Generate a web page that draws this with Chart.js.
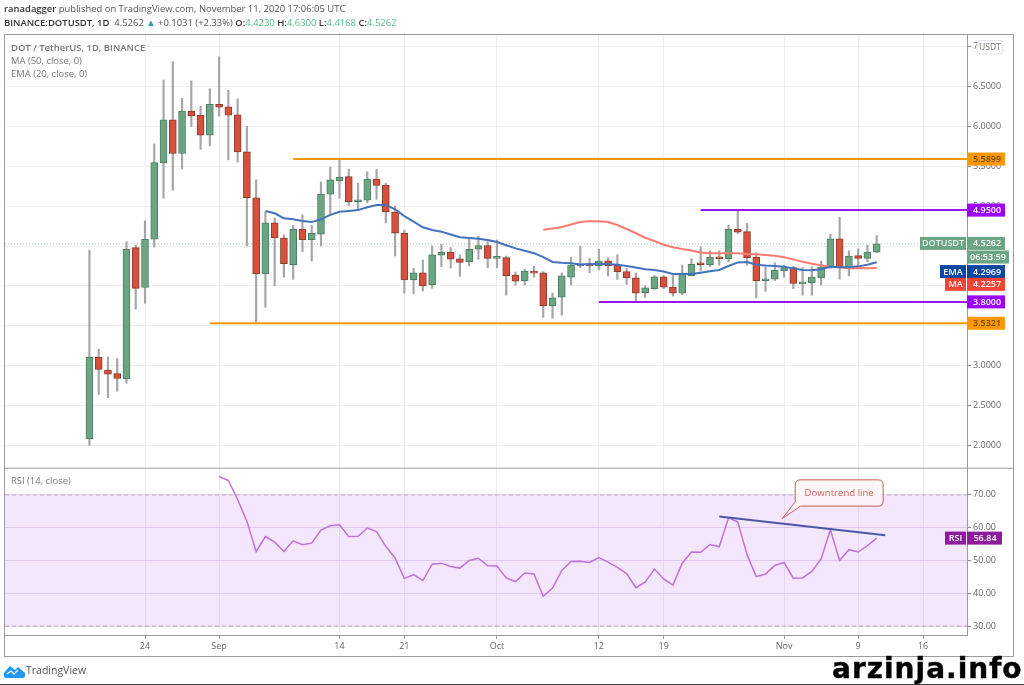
<!DOCTYPE html>
<html><head><meta charset="utf-8">
<script src="https://cdn.jsdelivr.net/npm/chart.js@4/dist/chart.umd.min.js"></script>
<style>
html,body{margin:0;padding:0;background:#fff;overflow:hidden}
#wrap{position:absolute;left:0;top:0;width:1024px;height:685px;filter:blur(0.45px)}
canvas{position:absolute;left:0;top:0}
.t{position:absolute;white-space:nowrap;font-family:"Open Sans",sans-serif;font-size:9.45px;line-height:12px;color:#555}
.b{font-weight:600;color:#333}
.g{color:#53b987}
.l{color:#777}
#mark{position:absolute;left:832px;top:652px;font:bold 28px "DejaVu Sans",sans-serif;letter-spacing:1px;-webkit-text-stroke:0.4px #000;color:#000;line-height:34px;white-space:nowrap}
#foot{position:absolute;left:0;top:684px;width:1024px;height:1px;background:#444}
</style></head><body>
<div id="wrap">
<canvas id="c" width="1024" height="685"></canvas>
<div class="t" style="left:4px;top:3px"><span class="b">ranadagger</span> published on TradingView.com, November 11, 2020 17:06:05 UTC</div>
<div class="t" style="left:4px;top:17px"><span class="b">BINANCE:DOTUSDT, 1D</span> &nbsp;4.5262 <span style="color:#26a69a">▲</span> +0.1031 (+2.33%) <span class="b">O:</span><span class="g">4.4230</span> <span class="b">H:</span><span class="g">4.6300</span> <span class="b">L:</span><span class="g">4.4168</span> <span class="b">C:</span><span class="g">4.5262</span></div>
<div class="t l" style="left:11px;top:42px;font-weight:600">DOT / TetherUS, 1D, BINANCE</div>
<div class="t l" style="left:11px;top:55px">MA (50, close, 0)</div>
<div class="t l" style="left:11px;top:68px">EMA (20, close, 0)</div>
<div class="t l" style="left:11px;top:475px">RSI (14, close)</div>
<svg style="position:absolute;left:4px;top:665px" width="21" height="13" viewBox="0 0 21 13"><path d="M0 11 L0 8 L6 1 L11 5 L14 2 L21 8 L21 11 Q21 13 19 13 L2 13 Q0 13 0 11Z" fill="#2196f3"/><path d="M3 9 L7 6 L10 9 L14 5" stroke="#fff" stroke-width="1.3" fill="none"/></svg>
<div class="t" style="left:26px;top:664px;font-size:10.5px;color:#555">TradingView</div>
<div id="foot"></div>
</div>
<div id="mark">arzinja.info</div>
<script>
const opens=[2.085,3.105,2.945,2.90,2.835,4.48,3.98,4.585,5.545,6.08,5.66,6.19,6.14,5.89,6.275,6.245,6.145,5.68,5.105,4.15,4.79,4.60,4.265,4.71,4.58,4.65,5.15,5.32,5.37,5.055,5.075,5.34,5.265,4.925,4.66,4.075,4.165,4.015,4.385,4.42,4.34,4.305,4.46,4.505,4.345,4.355,4.135,4.065,4.18,4.165,3.75,3.86,4.11,4.25,4.27,4.25,4.315,4.26,4.18,4.10,3.915,3.965,4.115,3.985,3.91,4.13,4.275,4.265,4.36,4.34,4.71,4.68,4.36,4.065,4.085,4.19,4.23,4.025,4.04,4.10,4.235,4.59,4.23,4.38,4.345,4.423];
const closes=[3.105,2.955,2.895,2.84,4.46,3.97,4.585,5.545,6.08,5.66,6.19,6.13,5.89,6.275,6.24,6.14,5.68,5.105,4.15,4.79,4.60,4.28,4.71,4.58,4.66,5.15,5.33,5.36,5.055,5.08,5.34,5.26,4.93,4.66,4.075,4.165,4.00,4.39,4.42,4.335,4.295,4.46,4.505,4.345,4.355,4.13,4.06,4.185,4.16,3.75,3.85,4.125,4.26,4.275,4.25,4.31,4.25,4.18,4.10,3.91,3.975,4.115,3.985,3.91,4.145,4.27,4.265,4.36,4.34,4.71,4.675,4.355,4.065,4.09,4.195,4.23,4.03,4.035,4.11,4.235,4.59,4.235,4.375,4.345,4.425,4.5262];
const highs=[4.45,3.205,3.11,3.09,4.555,4.51,4.817,5.78,6.58,6.81,6.35,6.57,6.25,6.47,6.87,6.45,6.345,6.0,5.33,4.93,4.85,4.64,4.76,4.89,4.76,5.30,5.49,5.59,5.465,5.285,5.43,5.46,5.285,5.0,4.70,4.22,4.325,4.50,4.52,4.48,4.385,4.59,4.62,4.555,4.575,4.375,4.175,4.21,4.25,4.18,3.91,4.165,4.36,4.50,4.345,4.46,4.355,4.39,4.22,4.16,4.0,4.13,4.13,4.13,4.26,4.34,4.49,4.44,4.44,4.76,4.94,4.785,4.415,4.235,4.29,4.26,4.25,4.23,4.24,4.31,4.65,4.86,4.44,4.465,4.51,4.63];
const lows=[2.0,2.64,2.60,2.68,2.78,3.71,3.78,4.485,5.10,5.20,5.465,6.0,5.71,5.755,6.13,5.58,5.55,4.50,3.54,3.73,4.0,4.11,4.08,4.43,4.31,4.50,4.89,5.10,5.01,4.96,5.04,5.085,4.79,4.375,3.91,3.90,3.935,3.97,4.24,4.225,4.12,4.25,4.335,4.225,4.225,3.885,4.01,4.01,4.11,3.605,3.595,3.635,4.01,4.23,4.165,4.20,4.125,4.08,4.02,3.815,3.855,3.955,3.965,3.87,3.89,4.125,4.185,4.24,4.26,4.30,4.655,4.26,3.85,3.93,4.065,4.11,3.965,3.885,3.885,4.01,4.22,4.085,4.125,4.26,4.30,4.4168];
const emaValues=[4.94,4.91,4.847,4.835,4.815,4.80,4.835,4.89,4.93,4.94,4.95,4.985,5.015,5.015,4.96,4.875,4.805,4.735,4.70,4.68,4.645,4.61,4.60,4.59,4.575,4.55,4.51,4.47,4.44,4.41,4.36,4.30,4.29,4.285,4.27,4.275,4.275,4.275,4.265,4.25,4.23,4.21,4.20,4.18,4.15,4.15,4.15,4.165,4.185,4.20,4.25,4.295,4.30,4.265,4.255,4.25,4.24,4.22,4.20,4.195,4.21,4.24,4.235,4.235,4.245,4.265,4.2969];
const maValues=[4.704,4.72,4.738,4.77,4.80,4.81,4.81,4.80,4.763,4.713,4.66,4.604,4.563,4.516,4.484,4.462,4.444,4.42,4.41,4.41,4.41,4.41,4.40,4.396,4.387,4.378,4.358,4.333,4.303,4.278,4.258,4.24,4.233,4.22,4.224,4.22,4.2257];
const rsiValues=[75.6,74.4,68.6,62,52.8,57.3,55.6,52.8,56,54.8,55.3,59.3,60.6,60.9,57.3,57.4,59.9,58.8,54.3,50.8,44.5,45.7,43.9,48.9,49.2,48.2,47.7,50,50.7,48.4,48.3,44.7,43.6,46.2,45.9,39.1,41.6,47,49.7,49.8,49.4,50.9,49.5,47.9,46,41.7,43.4,47.4,44.4,42.5,49.2,52.6,52.5,54.9,54.2,63,61.8,51.8,45.1,45.9,48.5,49.4,44.6,44.7,46.7,50.5,59.4,50,53.3,52.6,54.5,56.84];
const firstDay=-6, emaStart=19, maStart=49, rsiStart=14;
const priceTicks=[2,2.5,3,3.5,4,4.5,5,5.5,6,6.5,7];
const rsiTicks=[30,40,50,60,70];
const timeTicks=[0,8,21,28,38,49,56,69,77,84];
const timeLabels=['24','Sep','14','21','Oct','12','19','Nov','9','16'];
const xMin=-15.116, xMax=88.75;
const orangeLevels=[[16,5.5899],[7,3.5321]];
const purpleLevels=[[60,4.95],[49,3.80]];
const lastClose=4.5262;
const trendDays=[62,79.93], trendRsi=[63.4,57.7];
const dayOf=i=>i+firstDay;
const green='#6ba583', red='#d5503d', greenEdge='#4c8065', redEdge='#8f3b2e';
const candleColors=opens.map((o,i)=>closes[i]>=o?green:red);
const edgeColors=opens.map((o,i)=>closes[i]>=o?greenEdge:redEdge);
const seq=(vals,start)=>vals.map((y,i)=>({x:dayOf(start+i),y}));
const level=(l,color)=>({type:'line',data:[{x:l[0],y:l[1]},{x:xMax,y:l[1]}],borderColor:color,borderWidth:2,pointRadius:0,yAxisID:'y',order:1});
const fmt=v=>v.toFixed(4);

const overlay={id:'overlay',afterDraw(chart){
  const c=chart.ctx,a=chart.chartArea,s=chart.scales,py=s.y,ry=s.rsi,xs=s.x;
  const F='"Open Sans",sans-serif';
  c.save();
  c.strokeStyle='#9b9b9b';c.lineWidth=1;
  c.strokeRect(a.left-0.5,a.top+0.5,1014-a.left,a.bottom+21-a.top);
  c.beginPath();c.moveTo(a.left,py.bottom+0.5);c.lineTo(1014,py.bottom+0.5);c.stroke();
  c.fillStyle='#fff';c.strokeStyle='#e0e3eb';
  c.beginPath();c.roundRect(977,40.5,26,13.5,3);c.fill();c.stroke();
  c.fillStyle='#777';c.font='8.6px '+F;c.textAlign='center';c.textBaseline='middle';c.fillText('USDT',990,47.5);
  const R=a.right;
  const badge=(x0,x1,yc,fill,txt,col,txc)=>{c.fillStyle=fill;c.fillRect(x0,yc-6.5,x1-x0,13);
    c.fillStyle=col;c.font='600 9px '+F;c.textAlign='center';c.fillText(txt,txc??(x0+x1)/2,yc+0.5);};
  const y=v=>py.getPixelForValue(v);
  badge(R,1005,y(5.5899),'#ff9800','5.5899','#6d4c00',987);
  badge(R,1005,y(4.95),'#9c00ff','4.9500','#fff',987);
  badge(R,1005,y(3.80),'#9c00ff','3.8000','#fff',987);
  badge(R,1005,y(3.5321),'#ff9800','3.5321','#6d4c00',987);
  badge(920,966,y(lastClose)-0.5,green,'DOTUSDT','#e8f4ec');
  badge(R,1005,y(lastClose)-0.5,green,'4.5262','#fff',987);
  badge(R,1009,y(4.362),green,'06:53:59','#fff',988);
  badge(940,966,y(4.18),'#0d47a1','EMA','#fff');
  badge(R,1005,y(4.18),'#0d47a1','4.2969','#fff',987);
  badge(945,966,y(4.02),'#f44336','MA','#fff');
  badge(R,1005,y(4.02),'#f44336','4.2257','#fff',987);
  const ryc=ry.getPixelForValue(56.84);
  badge(945,966,ryc,'#8e1a9e','RSI','#fff');
  badge(R,1002,ryc,'#8e1a9e','56.84','#fff',985);
  const X=v=>xs.getPixelForValue(v),Y=v=>ry.getPixelForValue(v);
  const x0=X(70.2),x1=X(79.7),y0=Y(74.6),y1=Y(66.6),r=5;
  c.beginPath();c.moveTo(x0+r,y0);c.lineTo(x1-r,y0);c.quadraticCurveTo(x1,y0,x1,y0+r);c.lineTo(x1,y1-r);c.quadraticCurveTo(x1,y1,x1-r,y1);
  c.lineTo(X(70.8),y1);c.lineTo(X(68.8),Y(62.8));c.lineTo(x0,Y(67.9));c.lineTo(x0,y0+r);c.quadraticCurveTo(x0,y0,x0+r,y0);c.closePath();
  c.fillStyle='rgba(255,244,246,0.85)';c.fill();c.strokeStyle='#c0605f';c.lineWidth=1;c.stroke();
  c.fillStyle='#d4635f';c.font='9.6px '+F;c.textAlign='center';c.fillText('Downtrend line',(x0+x1)/2,Y(70.6)+0.5);
  c.restore();
}};

new Chart(document.getElementById('c'),{
  type:'bar',
  plugins:[overlay],
  data:{datasets:[
    {type:'line',data:[{x:xMin,y:70},{x:xMax,y:70}],yAxisID:'rsi',borderColor:'#b9a9c2',borderWidth:1,borderDash:[4,3],pointRadius:0,fill:{value:30},backgroundColor:'rgba(156,39,240,0.115)',order:9},
    {type:'line',data:[{x:xMin,y:30},{x:xMax,y:30}],yAxisID:'rsi',borderColor:'#b9a9c2',borderWidth:1,borderDash:[4,3],pointRadius:0,order:9},
    {type:'line',data:[{x:xMin,y:lastClose},{x:xMax,y:lastClose}],yAxisID:'y',borderColor:'rgba(107,165,131,0.6)',borderWidth:1,borderDash:[1,2],pointRadius:0,order:8},
    {type:'bar',data:opens.map((_,i)=>({x:dayOf(i),y:[lows[i],highs[i]]})),yAxisID:'y',backgroundColor:'#a6a6a6',barThickness:1.5,grouped:false,order:6},
    {type:'bar',data:opens.map((o,i)=>({x:dayOf(i),y:[o,closes[i]]})),yAxisID:'y',backgroundColor:candleColors,borderColor:edgeColors,borderWidth:1,borderSkipped:false,barThickness:7,minBarLength:2,grouped:false,order:5},
    {type:'line',data:seq(maValues,maStart),yAxisID:'y',borderColor:'#fb7a72',borderWidth:2,pointRadius:0,order:3},
    {type:'line',data:seq(emaValues,emaStart),yAxisID:'y',borderColor:'#4472bd',borderWidth:2,pointRadius:0,order:2},
    ...orangeLevels.map(l=>level(l,'#ff9800')),
    ...purpleLevels.map(l=>level(l,'#9c10f5')),
    {type:'line',data:seq(rsiValues,rsiStart),yAxisID:'rsi',borderColor:'#bd73d8',borderWidth:1.5,pointRadius:0,order:2},
    {type:'line',data:trendDays.map((x,i)=>({x,y:trendRsi[i]})),yAxisID:'rsi',borderColor:'#4a58a8',borderWidth:2,pointRadius:0,order:1}
  ]},
  options:{
    responsive:false,devicePixelRatio:1,animation:false,
    layout:{padding:{left:5,right:10,top:34,bottom:29}},
    plugins:{legend:{display:false},tooltip:{enabled:false}},
    scales:{
      x:{type:'linear',position:'bottom',min:xMin,max:xMax,offset:false,
        grid:{color:'#efeff2',offset:false,tickLength:4,tickColor:'#999'},border:{color:'#9b9b9b'},
        afterBuildTicks:s=>{s.ticks=timeTicks.map(v=>({value:v}));},
        afterFit:s=>{s.height=21;},
        ticks:{autoSkip:false,maxRotation:0,padding:2,color:'#666',font:{family:'"Open Sans",sans-serif',size:9},
          callback:v=>timeLabels[timeTicks.indexOf(v)]}},
      y:{type:'linear',position:'right',stack:'panes',stackWeight:433.7,min:1.722,max:7.157,
        grid:{color:'#f0f0f3',tickLength:4,tickColor:'#888'},border:{color:'#9b9b9b'},
        afterBuildTicks:s=>{s.ticks=priceTicks.map(v=>({value:v}));},
        afterFit:s=>{s.width=47;},
        ticks:{autoSkip:false,padding:2,color:'#666',font:{family:'"Open Sans",sans-serif',size:9},callback:v=>fmt(v)}},
      rsi:{type:'linear',position:'right',stack:'panes',stackWeight:167.3,min:27.3,max:78.3,
        grid:{color:'#e9dff0',tickLength:4,tickColor:'#888'},border:{color:'#9b9b9b'},
        afterBuildTicks:s=>{s.ticks=rsiTicks.map(v=>({value:v}));},
        afterFit:s=>{s.width=47;},
        ticks:{autoSkip:false,padding:2,color:'#666',font:{family:'"Open Sans",sans-serif',size:9},callback:v=>v.toFixed(2)}}
    }
  }
});
</script>
</body></html>
